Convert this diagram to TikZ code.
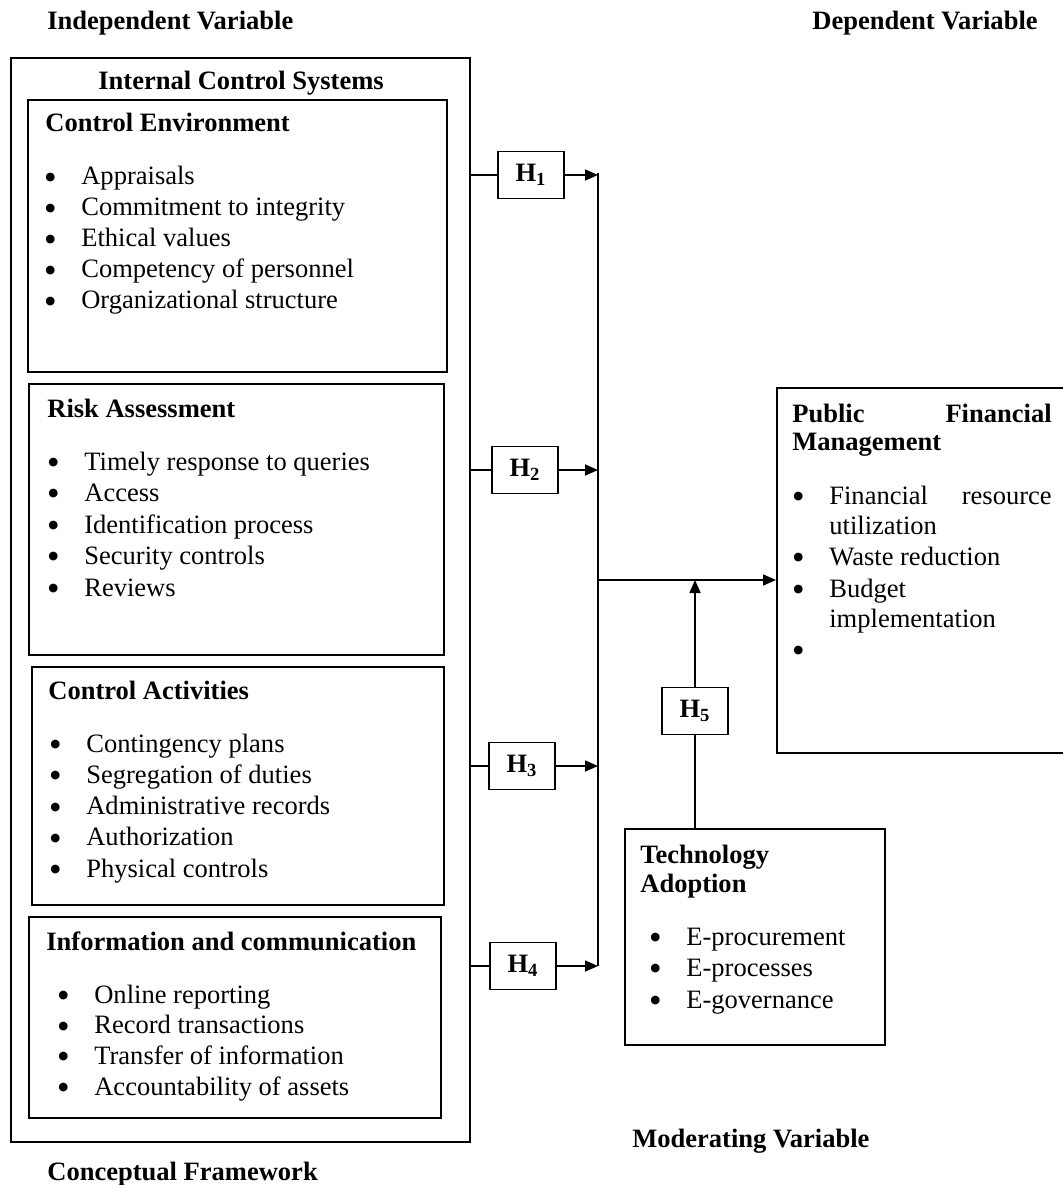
\documentclass[tikz,border=0pt]{standalone}
\usepackage{fontspec}
\setmainfont{Liberation Serif}
\newfontfamily\dotfont{DejaVu Sans}
\usetikzlibrary{arrows.meta,positioning}
\newcommand{\txtsize}{\fontsize{15.1}{17.6}\selectfont}
\newcommand{\bul}{\makebox[0.72cm][l]{\raisebox{2.6pt}{\dotfont\fontsize{6.5}{6.5}\selectfont ●}}}
\newcommand{\hyplab}[1]{\textbf{H}\textsubscript{\textbf{#1}}}
\tikzset{
  frame/.style={draw, line width=0.9pt, inner sep=0pt, anchor=north west},
  box/.style 2 args={minimum width=#1*0.02cm, minimum height=#2*0.02cm},
  hypbox/.style={draw, line width=0.9pt, inner sep=0pt, font=\txtsize, minimum width=1.32cm, minimum height=0.94cm},
  ttl/.style={anchor=base west, inner sep=0pt, font=\txtsize\bfseries},
  itm/.style={anchor=base west, inner sep=0pt, font=\txtsize},
  link/.style={line width=0.9pt},
  arr/.style={line width=0.9pt, -{Triangle[length=0.26cm, width=0.22cm]}}
}
\begin{document}
\begin{tikzpicture}[x=0.02cm, y=-0.02cm]
  \useasboundingbox (0,0) rectangle (1062,1185);
  \node[ttl] (indep) at (47,30) {Independent Variable};
  \node[ttl] (dep) at (812,30) {Dependent Variable};
  \node[ttl] (moder) at (632,1147) {Moderating Variable};
  \node[ttl] (concept) at (47,1180) {Conceptual Framework};

  \node[frame, box={459}{1084}] (ics) at (10,57) {};
  \node[ttl] (icstitle) at (98,90) {Internal Control Systems};

  \node[frame, box={419}{272}] (ce) at (27,99) {};
  \node[ttl] (cetitle) at (45,132) {Control Environment};
  \foreach \t [count=\i] in {Appraisals, Commitment to integrity, Ethical values, Competency of personnel, Organizational structure}
    \node[itm] (ce\i) at (45,185+31*\i-31) {\bul\t};

  \node[frame, box={415}{271}] (ra) at (28,383) {};
  \node[ttl] (ratitle) at (47,417) {Risk Assessment};
  \foreach \t [count=\i] in {Timely response to queries, Access, Identification process, Security controls, Reviews}
    \node[itm] (ra\i) at (48,470+31.5*\i-31.5) {\bul\t};

  \node[frame, box={412}{238}] (ca) at (31,666) {};
  \node[ttl] (catitle) at (48,699) {Control Activities};
  \foreach \t [count=\i] in {Contingency plans, Segregation of duties, Administrative records, Authorization, Physical controls}
    \node[itm] (ca\i) at (50,752+31.3*\i-31.3) {\bul\t};

  \node[frame, box={412}{201}] (ic) at (28,916) {};
  \node[ttl] (ictitle) at (46,950) {Information and communication};
  \foreach \t [count=\i] in {Online reporting, Record transactions, Transfer of information, Accountability of assets}
    \node[itm] (ic\i) at (58,1003+30.7*\i-30.7) {\bul\t};

  \node[frame, box={290}{365}] (pfm) at (776,387) {};
  \node[ttl] (pfmA) at (792,422) {Public};
  \node[ttl, anchor=base east] (pfmB) at (1052,422) {Financial};
  \node[ttl] (pfmC) at (792,450) {Management};
  \node[itm] (pfm1) at (793,504) {\bul Financial};
  \node[itm, anchor=base east] (pfm1b) at (1052,504) {resource};
  \node[itm] (pfm1c) at (829,534) {utilization};
  \node[itm] (pfm2) at (793,565) {\bul Waste reduction};
  \node[itm] (pfm3) at (793,597) {\bul Budget};
  \node[itm] (pfm3b) at (829,627) {implementation};
  \node[itm] (pfm4) at (793,658) {\bul};

  \node[frame, box={260}{216}] (tech) at (624,828) {};
  \node[ttl] (techA) at (640,863) {Technology};
  \node[ttl] (techB) at (640,892) {Adoption};
  \foreach \t [count=\i] in {E-procurement, E-processes, E-governance}
    \node[itm] (tech\i) at (650,945+31.5*\i-31.5) {\bul\t};

  \node[hypbox] (h1) at (531,175) {\hyplab{1}};
  \node[hypbox] (h2) at (525,470) {\hyplab{2}};
  \node[hypbox] (h3) at (522,766) {\hyplab{3}};
  \node[hypbox] (h4) at (523,966) {\hyplab{4}};
  \node[hypbox] (h5) at (695,711) {\hyplab{5}};

  \coordinate (jtop) at (598,173);
  \coordinate (jbot) at (598,966);
  \coordinate (jmid) at (598,580);
  \draw[link] (jtop) -- (jbot);
  \foreach \h in {h1,h2,h3,h4} {
    \draw[link] (ics.east |- \h) -- (\h);
    \draw[arr] (\h) -- (\h -| jtop);
  }
  \draw[arr] (jmid) -- (jmid -| pfm.west);
  \draw[link] (tech.north -| h5) -- (h5);
  \draw[arr] (h5) -- (h5 |- jmid);
\end{tikzpicture}
\end{document}
